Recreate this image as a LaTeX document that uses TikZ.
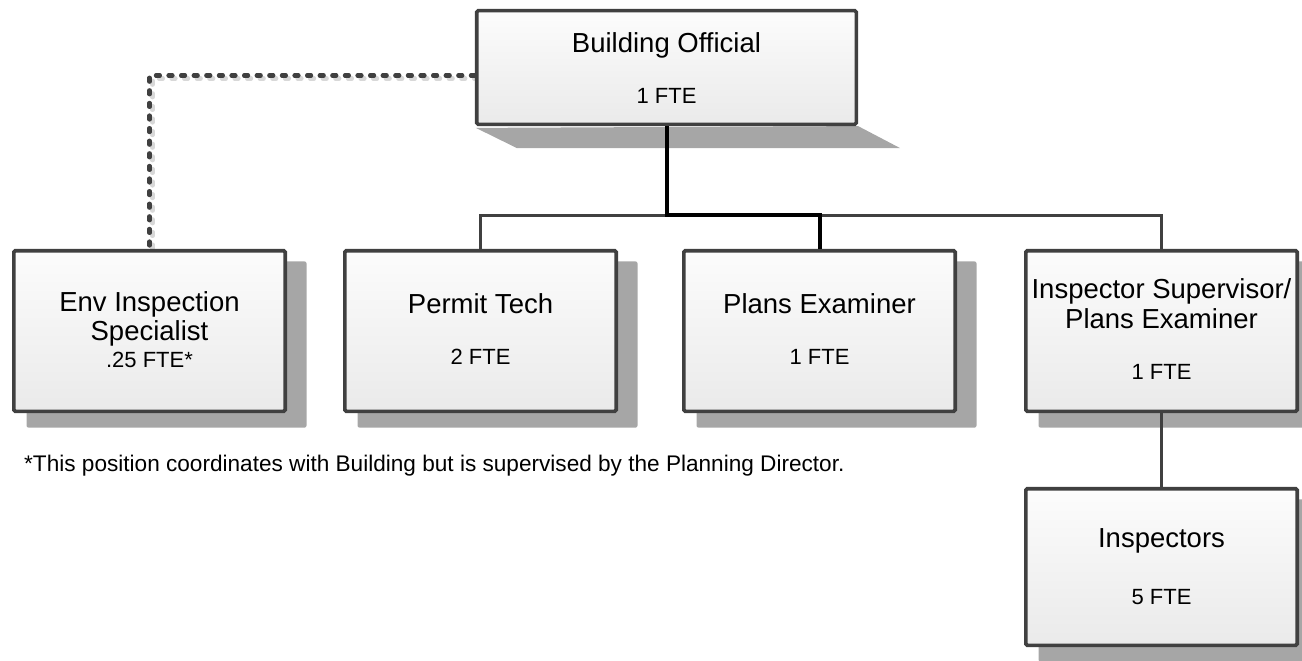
\documentclass[tikz,border=0pt]{standalone}
\usepackage{fontspec}
\setmainfont{Liberation Sans}
\usetikzlibrary{calc,backgrounds}

\definecolor{edge}{HTML}{404040}
\definecolor{shadowgray}{HTML}{A6A6A6}
\definecolor{boxtop}{HTML}{FCFCFC}
\definecolor{boxbot}{HTML}{EAEAEA}
\definecolor{dashgray}{HTML}{D8D8D8}

% offset drop shadow behind a unit box
\newcommand{\unitshadow}[1]{%
  \fill[shadowgray, rounded corners=2pt]
    ($(#1.north west)+(14.5,12.5)$) rectangle ($(#1.south east)+(19.5,14.5)$);}

\begin{document}
\begin{tikzpicture}[x=1pt, y=-1pt,
  unit/.style={draw=edge, line width=3.6pt, rounded corners=1.5pt,
    top color=boxtop, bottom color=boxbot, inner sep=0pt},
  ttl/.style={font=\fontsize{27.5}{30}\selectfont, anchor=base, inner sep=0pt},
  fte/.style={font=\fontsize{22}{24}\selectfont, anchor=base, inner sep=0pt},
  link/.style={draw=edge, line width=3.2pt},
  mainlink/.style={draw=black, line width=4pt},
  dashlink/.style={draw=edge, line width=4.2pt, line cap=round,
    dash pattern=on 4pt off 8.6pt},
  dashlinkshadow/.style={draw=dashgray, line width=4.2pt, line cap=round,
    dash pattern=on 4pt off 8.6pt},
]
\useasboundingbox (0,0) rectangle (1302,661);

% boxes
\node[unit, minimum width=379.6, minimum height=113.6] (bo)  at (666.5,67.5) {};
\node[unit, minimum width=271.4, minimum height=160.6] (env) at (149.5,331) {};
\node[unit, minimum width=271.4, minimum height=160.6] (pt)  at (480.5,331) {};
\node[unit, minimum width=271.4, minimum height=160.6] (pe)  at (819.5,331) {};
\node[unit, minimum width=271.4, minimum height=160.6] (isp) at (1161.5,331) {};
\node[unit, minimum width=271.4, minimum height=156.6] (ins) at (1161.5,567) {};

% box texts
\node[ttl] (bo-t)  at ($(bo.center)+(0,-15)$) {Building Official};
\node[fte] (bo-f)  at ($(bo.center)+(0,35.5)$) {1 FTE};

\node[ttl] (env-t1) at ($(env.center)+(0,-20)$) {Env Inspection};
\node[ttl] (env-t2) at ($(env.center)+(0,9)$) {Specialist};
\node[fte] (env-f)  at ($(env.center)+(0,36)$) {.25 FTE*};

\node[ttl] (pt-t) at ($(pt.center)+(0,-18)$) {Permit Tech};
\node[fte] (pt-f) at ($(pt.center)+(0,33)$) {2 FTE};

\node[ttl] (pe-t) at ($(pe.center)+(0,-18)$) {Plans Examiner};
\node[fte] (pe-f) at ($(pe.center)+(0,33)$) {1 FTE};

\node[ttl] (isp-t1) at ($(isp.center)+(0,-32.5)$) {Inspector Supervisor/};
\node[ttl] (isp-t2) at ($(isp.center)+(0,-3)$) {Plans Examiner};
\node[fte] (isp-f)  at ($(isp.center)+(0,48.5)$) {1 FTE};

\node[ttl] (ins-t) at ($(ins.center)+(0,-20)$) {Inspectors};
\node[fte] (ins-f) at ($(ins.center)+(0,37)$) {5 FTE};

% footnote
\node[font=\fontsize{22.6}{25}\selectfont, anchor=base west, inner sep=0pt] (note)
  at (24,471) {*This position coordinates with Building but is supervised by the Planning Director.};

% shadows
\begin{pgfonlayer}{background}
  \fill[shadowgray] ($(bo.south west)+(1,1.8)$) -- ($(bo.south west)+(42,22)$)
    -- ($(bo.south east)+(42,22)$) -- ($(bo.south east)+(0,0)$) -- cycle;
  \unitshadow{env}
  \unitshadow{pt}
  \unitshadow{pe}
  \unitshadow{isp}
  \unitshadow{ins}
  \draw[dashlinkshadow] ([shift={(3,11)}]bo.west) -| ([shift={(3,0)}]env.north);
\end{pgfonlayer}

% connectors
\coordinate (bus) at ($(bo.south)+(0,89)$);
\draw[link] (pt.north) |- (bus -| isp.north) -- (isp.north);
\draw[mainlink] (bo.south) -- (bus) -| (pe.north);
\draw[link] (isp.south) -- (ins.north);
\draw[dashlink] ([yshift=-8pt]bo.west) -| (env.north);

\end{tikzpicture}
\end{document}
